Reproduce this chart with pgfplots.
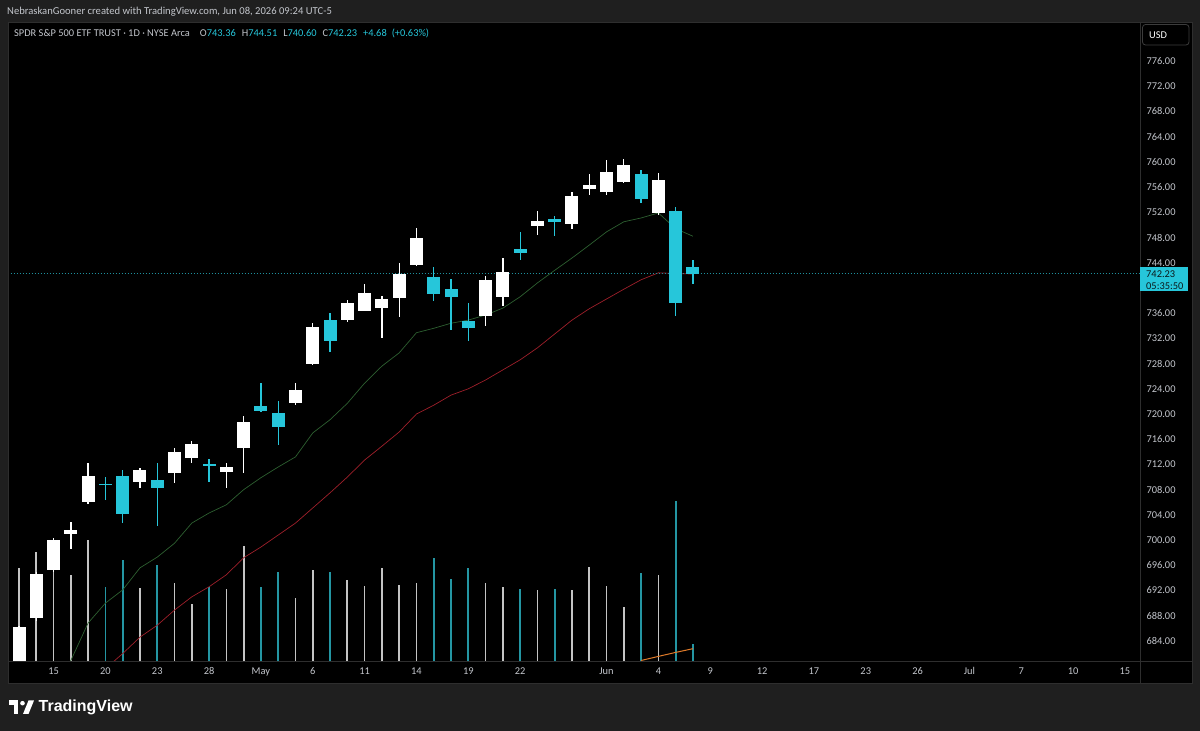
\documentclass[border=0pt]{standalone}
\usepackage{pgfplots}
\pgfplotsset{compat=1.18}
\usepackage{pgfplotstable}
\usepackage{fontspec}
\setmainfont{Carlito}
\newfontfamily\logofont{Liberation Sans}
\definecolor{outerbg}{HTML}{1F1F1F}
\definecolor{border}{HTML}{2E2E2E}
\definecolor{btnborder}{HTML}{3C3C3C}
\definecolor{tvteal}{HTML}{26C6DA}
\definecolor{volteal}{HTML}{2496A3}
\definecolor{volwhite}{HTML}{C4C4C4}
\definecolor{txtgray}{HTML}{C3C6CC}
\definecolor{magreen}{HTML}{2D5F30}
\definecolor{mared}{HTML}{9E1F2A}
\definecolor{volorange}{HTML}{E07B2A}
\definecolor{boxtext}{HTML}{0B1A1C}
\definecolor{dotline}{HTML}{1E8F9D}

\pgfplotstableread{
i O H L C
0 680.3 686.4 679.5 686.2
1 687.6 695.0 687.2 694.6
2 695.3 700.3 695.0 700.0
3 701.0 702.8 698.6 701.6
4 706.1 712.3 705.8 710.1
7 709.2 711.5 708.2 711.2
9 710.6 714.6 709.0 713.9
10 713.1 715.7 712.3 715.2
12 710.85 712.3 708.3 711.6
13 714.6 719.7 710.6 718.8
16 721.7 725.0 721.5 723.8
17 728.0 734.5 727.8 733.8
19 734.9 738.1 734.6 737.6
20 736.4 740.7 736.3 739.25
21 736.8 738.7 732.0 738.2
22 738.4 743.9 735.4 742.2
23 743.6 749.5 743.5 748.0
27 735.6 741.9 734.0 741.3
28 738.5 744.8 737.1 742.6
30 749.9 752.2 748.4 750.6
32 750.1 755.2 749.3 754.6
33 755.7 758.1 754.7 756.4
34 755.2 760.3 754.7 758.4
35 756.85 760.4 756.7 759.5
37 751.9 758.3 751.6 757.1
}\upcandles

\pgfplotstableread{
i O H L C
5 708.9 710.0 706.3 708.8
6 710.2 711.2 702.7 704.1
8 709.5 712.3 702.3 708.3
11 712.0 712.9 709.3 711.9
14 721.3 725.0 720.4 720.5
15 720.1 722.1 715.1 717.9
18 735.0 736.0 729.8 731.6
24 741.7 743.4 738.0 739.0
25 739.8 741.4 733.4 738.5
26 734.8 737.6 731.6 733.7
29 746.2 748.9 744.5 745.5
31 750.9 751.4 748.2 750.4
36 758.1 758.7 753.5 754.1
38 752.25 752.8 735.6 737.55
39 743.36 744.51 740.60 742.23
}\downcandles

\pgfplotstableread{
i v
0 93
1 109
2 106
3 86
4 121
7 73
9 78
10 57
12 72
13 115
16 63
17 91
19 81
20 75
21 93
22 76
23 78
27 78
28 74
30 71
32 71
33 94
34 75
35 54
37 86
}\volup

\pgfplotstableread{
i v
5 74
6 101
8 96
11 74
14 74
15 89
18 89
24 103
25 82
26 93
29 72
31 72
36 88
38 160
39 17
}\voldown

\begin{document}
\begin{tikzpicture}[x=1pt,y=1pt]
\path[use as bounding box] (0,0) rectangle (1200,731);
\fill[outerbg] (0,0) rectangle (1200,731);
% pane
\fill[black] (8,48) rectangle (1192,709);

% volume overlay
\begin{axis}[at={(8pt,70pt)}, anchor=south west, width=1132pt, height=639pt,
  scale only axis, xmin=-0.637, xmax=64.87, ymin=0, ymax=639, hide axis, clip=true]
\addplot[ycomb, volwhite, line width=1.7pt, mark=none] table[x=i,y=v] {\volup};
\addplot[ycomb, volteal, line width=1.7pt, mark=none] table[x=i,y=v] {\voldown};
\addplot[volorange, line width=1pt, mark=none] coordinates {(36,0.5)(37,4.6)(38,8.6)(39,12.3)};
\end{axis}

% price axis
\begin{axis}[at={(8pt,70pt)}, anchor=south west, width=1132pt, height=639pt,
  scale only axis, xmin=-0.637, xmax=64.87, ymin=680.82, ymax=782.19,
  axis line style={draw=none}, major tick length=0pt, clip=true,
  xtick={2,5,8,11,14,17,20,23,26,29,34,37,40,43,46,49,52,55,58,61,64},
  xticklabels={15,20,23,28,May,6,11,14,19,22,Jun,4,9,12,17,23,26,Jul,7,10,15},
  ytick={684,688,692,696,700,704,708,712,716,720,724,728,732,736,744,748,752,756,760,764,768,772,776},
  yticklabels={684.00,688.00,692.00,696.00,700.00,704.00,708.00,712.00,716.00,720.00,724.00,728.00,732.00,736.00,744.00,748.00,752.00,756.00,760.00,764.00,768.00,772.00,776.00},
  yticklabel pos=right,
  tick label style={font=\fontsize{10.4}{12}\selectfont, text=txtgray},
  xticklabel style={yshift=-3pt},
  yticklabel style={anchor=west, xshift=3pt},
]
\addplot[magreen, line width=0.7pt, mark=none] coordinates {(2,675.0)(3,680.9)(4,686.85)(5,690.0)(6,692.1)(7,695.6)(8,697.3)(9,699.5)(10,702.7)(11,704.3)(12,705.6)(13,708.0)(14,709.9)(15,711.6)(16,713.2)(17,717.0)(18,719.1)(19,721.7)(20,724.9)(21,727.6)(22,729.7)(23,732.9)(24,733.6)(25,734.4)(26,734.9)(27,735.7)(28,736.8)(29,738.6)(30,740.8)(31,742.8)(32,744.75)(33,746.8)(34,748.9)(35,750.5)(36,751.1)(37,751.9)(38,749.4)(39,748.2)};
\addplot[mared, line width=0.7pt, mark=none] coordinates {(5,679.6)(6,682.0)(7,684.6)(8,686.5)(9,688.9)(10,691.0)(11,692.6)(12,694.5)(13,697.2)(14,698.9)(15,700.8)(16,702.7)(17,705.1)(18,707.5)(19,710.0)(20,712.7)(21,714.9)(22,717.15)(23,720.0)(24,721.4)(25,723.0)(26,724.0)(27,725.4)(28,727.0)(29,728.6)(30,730.5)(31,732.7)(32,734.9)(33,736.7)(34,738.25)(35,739.8)(36,741.3)(37,742.4)(38,742.3)(39,742.2)};
\addplot[dotline, line width=0.8pt, dash pattern=on 1pt off 2pt, mark=none] coordinates {(-1,742.23)(66,742.23)};
% wicks
\addplot[draw=none, mark=none, error bars/.cd, y dir=both, y explicit, error mark=none,
  error bar style={draw=white, line width=1.3pt}]
  table[x=i, y expr={(\thisrow{H}+\thisrow{L})/2}, y error expr={(\thisrow{H}-\thisrow{L})/2}] {\upcandles};
\addplot[draw=none, mark=none, error bars/.cd, y dir=both, y explicit, error mark=none,
  error bar style={draw=tvteal, line width=1.3pt}]
  table[x=i, y expr={(\thisrow{H}+\thisrow{L})/2}, y error expr={(\thisrow{H}-\thisrow{L})/2}] {\downcandles};
% bodies
\addplot[draw=none, mark=none, error bars/.cd, y dir=both, y explicit, error mark=none,
  error bar style={draw=white, line width=13pt}]
  table[x=i, y expr={(\thisrow{O}+\thisrow{C})/2}, y error expr={max(abs(\thisrow{O}-\thisrow{C})/2,0.11)}] {\upcandles};
\addplot[draw=none, mark=none, error bars/.cd, y dir=both, y explicit, error mark=none,
  error bar style={draw=tvteal, line width=13pt}]
  table[x=i, y expr={(\thisrow{O}+\thisrow{C})/2}, y error expr={max(abs(\thisrow{O}-\thisrow{C})/2,0.11)}] {\downcandles};
\end{axis}

% separators and pane border
\draw[border, line width=0.8pt] (8,70) -- (1192,70);
\draw[border, line width=0.8pt] (1140,48) -- (1140,709);
\draw[border, line width=0.8pt] (8,48) rectangle (1192,709);

% price box
\fill[tvteal] (1140,439.5) rectangle (1188,463.7);
\node[anchor=west, inner sep=0pt, text=boxtext, font=\fontsize{10.4}{12}\selectfont] at (1146,457) {742.23};
\node[anchor=west, inner sep=0pt, text=boxtext, font=\fontsize{10.4}{12}\selectfont] at (1146,444.5) {05:35:50};

% USD button
\draw[btnborder, line width=0.8pt, fill=black, rounded corners=3pt] (1142.5,686) rectangle (1189,706.5);
\node[anchor=west, inner sep=0pt, text=white, font=\fontsize{10.4}{12}\selectfont] at (1149,696) {USD};

% top credits
\node[anchor=west, inner sep=0pt, text=txtgray, font=\fontsize{10.6}{12}\selectfont] at (7,719) {NebraskanGooner created with TradingView.com, Jun 08, 2026 09:24 UTC-5};
% legend line
\node[anchor=west, inner sep=0pt, text=txtgray, font=\fontsize{10.4}{12}\selectfont] at (14,698)
 {SPDR S\&P 500 ETF TRUST · 1D · NYSE Arca\hspace{10pt}O{\color{tvteal}743.36}\hspace{6pt}H{\color{tvteal}744.51}\hspace{6pt}L{\color{tvteal}740.60}\hspace{6pt}C{\color{tvteal}742.23}\hspace{6pt}{\color{tvteal}+4.68\hspace{5pt}(+0.63\%)}};

% TradingView logo
\fill[white] (9,30.5) rectangle (18,26);
\fill[white] (13.5,30.5) rectangle (18,17);
\fill[white] (22.5,27.8) circle (2.3pt);
\fill[white] (28.5,30.5) -- (34,30.5) -- (28.5,17) -- (23,17) -- cycle;
\node[anchor=west, inner sep=0pt, text=white, font=\logofont\bfseries\fontsize{16}{18}\selectfont] at (38.5,24) {TradingView};
\end{tikzpicture}
\end{document}
